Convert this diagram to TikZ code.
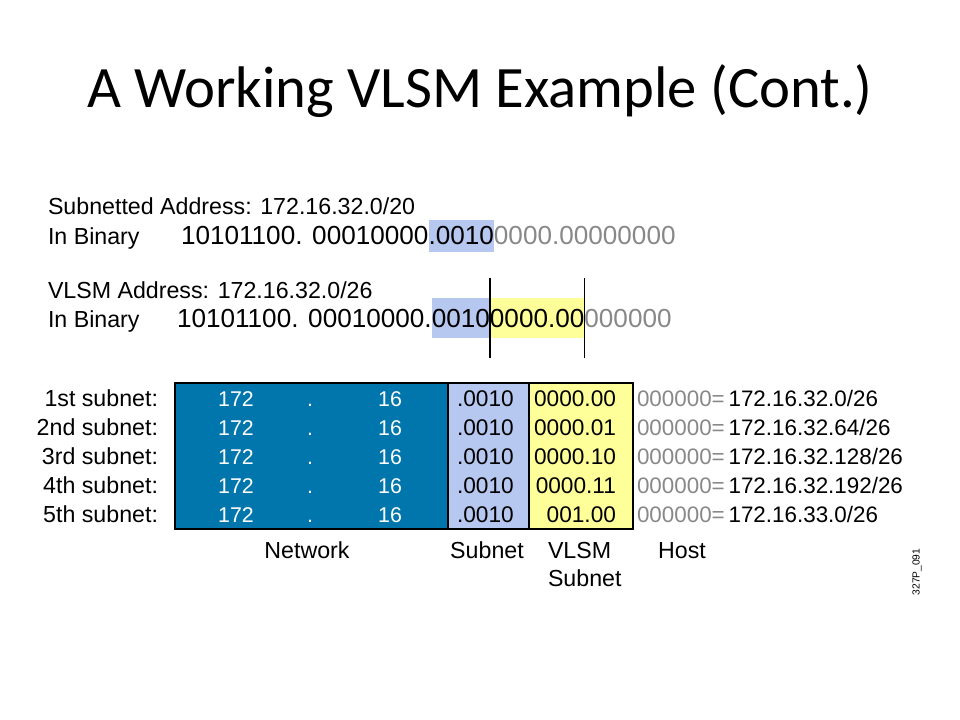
\documentclass[tikz,border=0pt]{standalone}
\usepackage{fontspec}
\setmainfont{Liberation Sans}
\newfontfamily\titlefont{Carlito}
\usetikzlibrary{positioning}
\definecolor{netblue}{RGB}{0,118,172}
\definecolor{subblue}{RGB}{182,199,240}
\definecolor{vlsmyellow}{RGB}{255,255,153}
\definecolor{hostgray}{RGB}{136,136,136}

\begin{document}
\begin{tikzpicture}
    [
        x=0.75pt, y=-0.75pt,
        every node/.style={inner sep=0pt, outer sep=0pt},
        lbl/.style={font=\fontsize{17.4}{20}\selectfont},
        bin/.style={font=\fontsize{19.6}{22}\selectfont},
        cell/.style={font=\fontsize{16}{19}\selectfont},
        bits/.style={font=\fontsize{17}{19}\selectfont},
        host/.style={font=\fontsize{16.8}{19}\selectfont},
        hl1/.style={bin, text height=18.75pt, text depth=5.25pt},
        hl2/.style={bin, text height=21.75pt, text depth=8.25pt},
        box/.style={draw=black, line width=1pt, anchor=north west, minimum height=109.5pt},
    ]
  \useasboundingbox (0,0) rectangle (960,720);

  % title
  \node[anchor=base, font=\titlefont\fontsize{44}{50}\selectfont] (T) at (480,108) {A Working VLSM Example (Cont.)};

  % subnetted address
  \node[lbl, anchor=base west] (SA) at (48,215) {Subnetted Address: 172.16.32.0/20};
  \node[lbl, anchor=base west] (IB1) at (48,245) {In Binary};
  \node[bin, anchor=base west] (B1a) at (181,245) {10101100. 00010000};
  \node[hl1, fill=subblue, base right=0pt of B1a] (B1b) {.0010};
  \node[bin, text=hostgray, base right=0pt of B1b] (B1c) {0000.00000000};

  % VLSM address
  \node[lbl, anchor=base west] (VA) at (48,298) {VLSM Address: 172.16.32.0/26};
  \node[lbl, anchor=base west] (IB2) at (48,327) {In Binary};
  \node[bin, anchor=base west] (B2a) at (177,327) {10101100. 00010000.};
  \node[hl2, fill=subblue, base right=0pt of B2a] (B2b) {0010};
  \node[hl2, fill=vlsmyellow, base right=0pt of B2b] (B2c) {0000.00};
  \node[bin, text=hostgray, base right=0pt of B2c] (B2d) {000000};
  \draw[line width=1.1pt] ([yshift=15pt]B2c.north west) -- ([yshift=-15pt]B2c.south west);
  \draw[line width=1.1pt] ([yshift=15pt]B2c.north east) -- ([yshift=-15pt]B2c.south east);

  % table
  \node[box, fill=netblue, minimum width=204.75pt] (N) at (175,383) {};
  \node[box, fill=subblue, minimum width=60.75pt] (S) at (N.north east) {};
  \node[box, fill=vlsmyellow, minimum width=78pt] (V) at (S.north east) {};

  \foreach \lab/\vl/\addr [count=\i] in {1st/0000.00/172.16.32.0, 2nd/0000.01/172.16.32.64,
      3rd/0000.10/172.16.32.128, 4th/0000.11/172.16.32.192, 5th/001.00/172.16.33.0}
  {
    \pgfmathsetmacro\yy{406+29*(\i-1)}
    \node[lbl, anchor=base east] (L\i) at (158,\yy) {\lab{} subnet:};
    \node[cell, text=white, anchor=base] (Na\i) at (236,\yy) {172};
    \node[cell, text=white, anchor=base] (Nb\i) at (310,\yy) {.};
    \node[cell, text=white, anchor=base] (Nc\i) at (390,\yy) {16};
    \node[bits, anchor=base west] (S\i) at (457,\yy) {.0010};
    \node[bits, anchor=base east] (V\i) at (616,\yy) {\vl};
    \node[host, anchor=base west] (H\i) at (637,\yy) {\textcolor{hostgray}{000000=}\,\addr/26};
  }

  % column labels
  \node[lbl, anchor=base] (CN) at (307,558) {Network};
  \node[lbl, anchor=base] (CS) at (487,558) {Subnet};
  \node[lbl, anchor=base west] (CV) at (548,558) {VLSM};
  \node[lbl, anchor=base west] (CV2) at (548,586) {Subnet};
  \node[lbl, anchor=base] (CH) at (682,558) {Host};
  \node[rotate=90, font=\fontsize{7.7}{9}\selectfont] (ID) at (917,572) {327P\_091};
\end{tikzpicture}
\end{document}
